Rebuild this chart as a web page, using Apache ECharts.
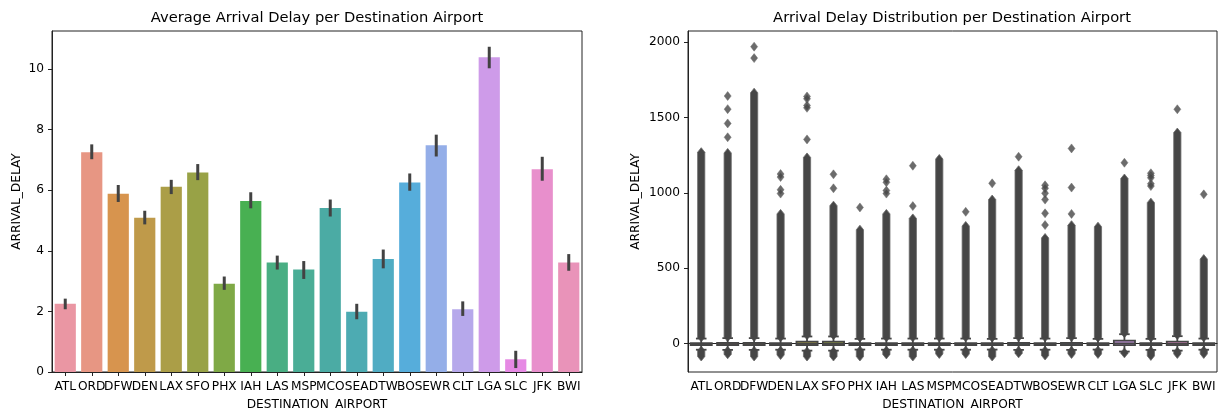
<!DOCTYPE html>
<html><head><meta charset="utf-8">
<script src="https://cdn.jsdelivr.net/npm/echarts@6/dist/echarts.min.js"></script>
<style>html,body{margin:0;padding:0;background:#fff}#c{width:1218px;height:410px}</style>
</head><body><div id="c"></div>
<script>
// ---------- DATA ----------
const airports = ['ATL','ORD','DFW','DEN','LAX','SFO','PHX','IAH','LAS','MSP','MCO','SEA','DTW','BOS','EWR','CLT','LGA','SLC','JFK','BWI'];
// left chart: mean arrival delay and its confidence interval
const meanDelay = [2.25,7.25,5.88,5.09,6.11,6.58,2.91,5.64,3.61,3.38,5.41,1.99,3.73,6.25,7.48,2.07,10.38,0.42,6.69,3.61];
const ciLow     = [2.07,7.02,5.61,4.87,5.87,6.33,2.71,5.40,3.38,3.07,5.13,1.74,3.42,5.98,7.11,1.85,10.02,0.13,6.31,3.34];
const ciHigh    = [2.42,7.51,6.17,5.32,6.34,6.86,3.15,5.93,3.84,3.66,5.69,2.25,4.04,6.55,7.83,2.33,10.73,0.70,7.10,3.89];
const leftTicks = [0,2,4,6,8,10];
// right chart: box statistics
const q1          = [-11,-11,-11,-11,-12,-12,-11,-11,-11,-11,-11,-11,-11,-11,-11,-11,-11,-12,-12,-11];
const median      = [-5,-4,-4,-5,-3,-3,-5,-5,-5,-5,-5,-5,-4,-5,-4,-5,0,-6,-3,-5];
const q3          = [2,3,3,2,12,12,2,2,2,2,2,1,3,2,3,2,18,1,12,2];
const whiskerLow  = [-42,-43,-43,-42,-48,-48,-41,-42,-42,-42,-42,-41,-43,-42,-43,-41,-54,-43,-48,-42];
const whiskerHigh = [32,35,35,32,46,46,30,32,32,32,32,30,35,32,35,30,61,30,48,32];
// dense runs of outliers (below and above the whiskers)
const lowOutlierMin  = [-87,-72,-87,-77,-87,-87,-87,-73,-87,-70,-70,-87,-66,-80,-70,-70,-66,-83,-70,-70];
const lowOutlierMax  = [-48,-49,-49,-48,-54,-54,-47,-48,-48,-48,-48,-47,-49,-48,-49,-47,-60,-49,-54,-48];
const highOutlierMin = [40,42,42,40,54,54,38,40,40,40,40,38,42,40,42,38,68,38,55,40];
const highOutlierMax = [1270,1265,1665,860,1235,915,755,860,830,1225,780,955,1150,700,785,775,1095,935,1400,560];
// isolated outliers above the dense runs
const sparseOutliers = [
  [], [1643,1556,1461,1369], [1971,1895], [1125,1105,1020,995], [1640,1625,1580,1565,1355],
  [1123,1030], [903], [1090,1070,1015,995], [1180,912], [], [874], [1063], [1240],
  [1050,1030,997,955,864,786], [1295,1035,860], [], [1200], [1130,1115,1100,1060,1045], [1555], [990]
];
const rightTicks = [0,500,1000,1500,2000];

// ---------- seaborn-like husl palette (style only) ----------
function huslPalette(n, h, s, l) {
  const M=[[3.2406,-1.5372,-0.4986],[-0.9689,1.8758,0.0415],[0.0557,-0.2040,1.0570]];
  const refU=0.19784, refV=0.46834;
  function maxChroma(L,H){
    const hr=H*Math.PI/180, sinH=Math.sin(hr), cosH=Math.cos(hr);
    const sub1=Math.pow(L+16,3)/1560896; const sub2=sub1>0.008856?sub1:L/903.3;
    let res=Infinity;
    for (const [m1,m2,m3] of M){
      const top=(0.99915*m1+1.05122*m2+1.14460*m3)*sub2;
      const rb=0.86330*m3-0.17266*m2, lb=0.12949*m3-0.38848*m1;
      const bottom=(rb*sinH+lb*cosH)*sub2;
      for (const t of [0,1]){ const C=L*(top-1.05122*t)/(bottom+0.17266*sinH*t); if(C>0&&C<res) res=C; }
    }
    return res;
  }
  const fInv=t=>Math.pow(t,3)>0.008856?Math.pow(t,3):(116*t-16)/903.3;
  const fromLin=c=>c<=0.0031308?12.92*c:1.055*Math.pow(c,1/2.4)-0.055;
  function toRgb(H,S,L){
    const C=maxChroma(L,H)/100*S, hr=H*Math.PI/180;
    const U=Math.cos(hr)*C, V=Math.sin(hr)*C;
    const Y=fInv((L+16)/116), vU=U/(13*L)+refU, vV=V/(13*L)+refV;
    const X=0-(9*Y*vU)/((vU-4)*vV-vU*vV);
    const Z=(9*Y-15*vV*Y-vV*X)/(3*vV);
    return M.map(r=>Math.min(1,Math.max(0,fromLin(r[0]*X+r[1]*Y+r[2]*Z))));
  }
  const out=[];
  for (let i=0;i<n;i++){ const hu=((i/n)+h)%1*359; out.push(toRgb(hu,s*99,l*99)); }
  return out;
}
function rgbToHls([r,g,b]){
  const mx=Math.max(r,g,b), mn=Math.min(r,g,b), l=(mx+mn)/2;
  if (mx===mn) return [0,l,0];
  const s = l<=0.5?(mx-mn)/(mx+mn):(mx-mn)/(2-mx-mn);
  const rc=(mx-r)/(mx-mn), gc=(mx-g)/(mx-mn), bc=(mx-b)/(mx-mn);
  let h = r===mx? bc-gc : g===mx? 2+rc-bc : 4+gc-rc;
  h=((h/6)%1+1)%1;
  return [h,l,s];
}
function hlsToRgb([h,l,s]){
  if (s===0) return [l,l,l];
  const m2=l<=0.5?l*(1+s):l+s-l*s, m1=2*l-m2;
  const v=(hue)=>{hue=((hue%1)+1)%1; if(hue<1/6)return m1+(m2-m1)*hue*6; if(hue<0.5)return m2; if(hue<2/3)return m1+(m2-m1)*(2/3-hue)*6; return m1;};
  return [v(h+1/3),v(h),v(h-1/3)];
}
const hex=c=>'#'+c.map(x=>Math.round(x*255).toString(16).padStart(2,'0')).join('');
const rgbCols = huslPalette(airports.length, 0.01, 0.9, 0.7).map(c=>{const q=rgbToHls(c); q[2]*=0.75; return hlsToRgb(q);});
const colors = rgbCols.map(hex);
const lum = Math.min(...rgbCols.map(c=>rgbToHls(c)[1]))*0.6;
const gray = hex([lum,lum,lum]);
const errColor = '#424242';

// ---------- CHART ----------
const FONT = 'DejaVu Sans';
const txt = {fontFamily: FONT, fontSize: 12.2, color: '#000'};
function xAx(gi){
  return {type:'category', gridIndex:gi, data:airports, boundaryGap:true,
    name:'DESTINATION_AIRPORT', nameLocation:'middle', nameGap:27, nameTextStyle:txt,
    axisLine:{show:true, lineStyle:{color:'#222', width:1}},
    axisTick:{show:true, alignWithLabel:true, length:4, lineStyle:{color:'#222'}},
    axisLabel:Object.assign({interval:0, margin:8.5, hideOverlap:false}, txt), splitLine:{show:false}};
}
function yAx(gi, min, max, interval, ticks, gap){
  return {type:'value', gridIndex:gi, min, max, interval,
    name:'ARRIVAL_DELAY', nameLocation:'middle', nameGap:gap, nameRotate:90, nameTextStyle:txt,
    axisLine:{show:true, lineStyle:{color:'#222', width:1}},
    axisTick:{show:true, length:4, lineStyle:{color:'#222'}, customValues:ticks},
    axisLabel:Object.assign({margin:8, customValues:ticks, formatter:v=>String(v)}, txt), splitLine:{show:false}};
}

const chart = echarts.init(document.getElementById('c'), null, {renderer:'canvas'});
chart.setOption({
  animation:false,
  backgroundColor:'#fff',
  title:[
    {text:'Average Arrival Delay per Destination Airport', left:317, top:11, padding:0, textAlign:'center',
     textStyle:{fontFamily:FONT, fontSize:14.7, fontWeight:'normal', color:'#000'}},
    {text:'Arrival Delay Distribution per Destination Airport', left:952, top:11, padding:0, textAlign:'center',
     textStyle:{fontFamily:FONT, fontSize:14.7, fontWeight:'normal', color:'#000'}}
  ],
  grid:[
    {left:52, right:636, top:31, bottom:38, show:true, borderColor:'#222', borderWidth:1, containLabel:false, outerBoundsMode:'none'},
    {left:688, right:1, top:31, bottom:38, show:true, borderColor:'#222', borderWidth:1, containLabel:false, outerBoundsMode:'none'}
  ],
  xAxis:[xAx(0), xAx(1)],
  yAxis:[yAx(0, 0, 11.25, 2, leftTicks, 29), yAx(1, -190, 2075, 500, rightTicks, 46)],
  series:[
    {type:'bar', xAxisIndex:0, yAxisIndex:0, barWidth:'80%',
     data: meanDelay.map((v,i)=>({value:v, itemStyle:{color:colors[i]}}))},
    {type:'custom', xAxisIndex:0, yAxisIndex:0, z:5,
     data: airports.map((a,i)=>[i, ciLow[i], ciHigh[i]]),
     encode:{x:0, y:[1,2]},
     renderItem:(params, api)=>{
       const p1=api.coord([api.value(0), api.value(1)]), p2=api.coord([api.value(0), api.value(2)]);
       return {type:'line', shape:{x1:p1[0], y1:p1[1], x2:p2[0], y2:p2[1]},
               style:{stroke:errColor, lineWidth:3}};
     }},
    // dense outlier runs
    {type:'custom', xAxisIndex:1, yAxisIndex:1, z:3,
     data: airports.flatMap((a,i)=>[[i, lowOutlierMin[i], lowOutlierMax[i]], [i, highOutlierMin[i], highOutlierMax[i]]]),
     encode:{x:0, y:[1,2]},
     renderItem:(params, api)=>{
       const i=api.value(0);
       const lo=api.coord([i, api.value(1)]), hi=api.coord([i, api.value(2)]);
       const x=lo[0], w=3.6, t=4.5;
       return {type:'polygon', shape:{points:[
         [x, lo[1]+t], [x-w, lo[1]], [x-w, hi[1]], [x, hi[1]-t], [x+w, hi[1]], [x+w, lo[1]]]},
         style:{fill:gray, stroke:'#6a6a6a', lineWidth:0.8}};
     }},
    // isolated outliers
    {type:'scatter', xAxisIndex:1, yAxisIndex:1, z:3, symbol:'diamond', symbolSize:[7,9],
     itemStyle:{color:gray, borderColor:'#6a6a6a', borderWidth:0.6},
     data: sparseOutliers.flatMap((arr,i)=>arr.map(v=>[i, v]))},
    // boxes
    {type:'custom', xAxisIndex:1, yAxisIndex:1, z:6,
     data: airports.map((a,i)=>[i, whiskerLow[i], q1[i], median[i], q3[i], whiskerHigh[i]]),
     encode:{x:0, y:[1,2,3,4,5]},
     renderItem:(params, api)=>{
       const i=api.value(0);
       const x=api.coord([i,0])[0];
       const bw=api.size([1,0])[0]*0.8;
       const y=k=>api.coord([i, api.value(k)])[1];
       const yl=y(1), yq1=y(2), ym=y(3), yq3=y(4), yh=y(5);
       const st={stroke:gray, lineWidth:1.8};
       return {type:'group', children:[
         {type:'line', shape:{x1:x, y1:yq1, x2:x, y2:yl}, style:st},
         {type:'line', shape:{x1:x, y1:yq3, x2:x, y2:yh}, style:st},
         {type:'line', shape:{x1:x-bw/4, y1:yl, x2:x+bw/4, y2:yl}, style:st},
         {type:'line', shape:{x1:x-bw/4, y1:yh, x2:x+bw/4, y2:yh}, style:st},
         {type:'rect', shape:{x:x-bw/2, y:yq3, width:bw, height:yq1-yq3},
          style:{fill:colors[i], stroke:gray, lineWidth:1.8}},
         {type:'line', shape:{x1:x-bw/2, y1:ym, x2:x+bw/2, y2:ym}, style:{stroke:gray, lineWidth:1.8}}
       ]};
     }}
  ]
});
</script>
</body></html>
